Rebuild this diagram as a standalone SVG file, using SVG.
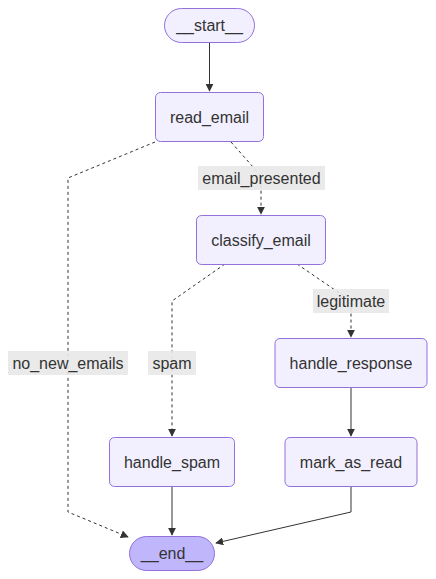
<svg xmlns="http://www.w3.org/2000/svg" width="436" height="579" viewBox="0 0 436 579">
<style>
.node rect{fill:#f2f0ff;stroke:#9370db;stroke-width:1}
.node.end rect{fill:#bfb6fc}
text{font-family:"Liberation Sans",Arial,sans-serif;font-size:16px;fill:#333;text-anchor:middle;dominant-baseline:central}
.edge{fill:none;stroke:#333;stroke-width:1}
.dash{stroke-dasharray:3 3}
.lbl rect{fill:#e8e8e8;opacity:0.9}
</style>
<defs>
<marker id="arr" viewBox="0 0 10 10" refX="9" refY="5" markerWidth="8" markerHeight="8" orient="auto" markerUnits="userSpaceOnUse">
<path d="M0,0 L10,5 L0,10 z" fill="#333"/>
</marker>
</defs>
<rect width="436" height="579" fill="#fff"/>
<g id="edges">
<path class="edge" d="M209.5,42 V91" marker-end="url(#arr)"/>
<path class="edge dash" d="M231,142 L261,176 V214" marker-end="url(#arr)"/>
<path class="edge dash" d="M155,142 L68,178 V512 L128,537" marker-end="url(#arr)"/>
<path class="edge dash" d="M225,264 L172,301 V436" marker-end="url(#arr)"/>
<path class="edge dash" d="M297,264 L351,301 V337" marker-end="url(#arr)"/>
<path class="edge" d="M351,388 V436" marker-end="url(#arr)"/>
<path class="edge" d="M172,487 V535" marker-end="url(#arr)"/>
<path class="edge" d="M351,487 V512 L216,543" marker-end="url(#arr)"/>
</g>
<g id="labels">
<g class="lbl"><rect x="198" y="166" width="127" height="24"/><text x="261.5" y="178">email_presented</text></g>
<g class="lbl"><rect x="8" y="351" width="120" height="24"/><text x="68" y="363">no_new_emails</text></g>
<g class="lbl"><rect x="148" y="351" width="48" height="24"/><text x="172" y="363">spam</text></g>
<g class="lbl"><rect x="313" y="289" width="76" height="24"/><text x="351" y="301">legitimate</text></g>
</g>
<g id="start" class="node"><rect x="164.5" y="8.5" width="90" height="34" rx="17"/><text x="209.5" y="25.5">__start__</text></g>
<g id="read_email" class="node"><rect x="155.5" y="92.5" width="108" height="49" rx="5"/><text x="209.5" y="117">read_email</text></g>
<g id="classify_email" class="node"><rect x="196.5" y="215.5" width="129" height="49" rx="5"/><text x="261" y="240">classify_email</text></g>
<g id="handle_response" class="node"><rect x="275" y="338.5" width="152" height="49" rx="5"/><text x="351" y="363">handle_response</text></g>
<g id="handle_spam" class="node"><rect x="109.5" y="437.5" width="125" height="49" rx="5"/><text x="172" y="462">handle_spam</text></g>
<g id="mark_as_read" class="node"><rect x="285" y="437.5" width="132" height="49" rx="5"/><text x="351" y="462">mark_as_read</text></g>
<g id="end" class="node end"><rect x="129.5" y="536.5" width="85" height="34" rx="17"/><text x="172" y="553.5">__end__</text></g>
</svg>
